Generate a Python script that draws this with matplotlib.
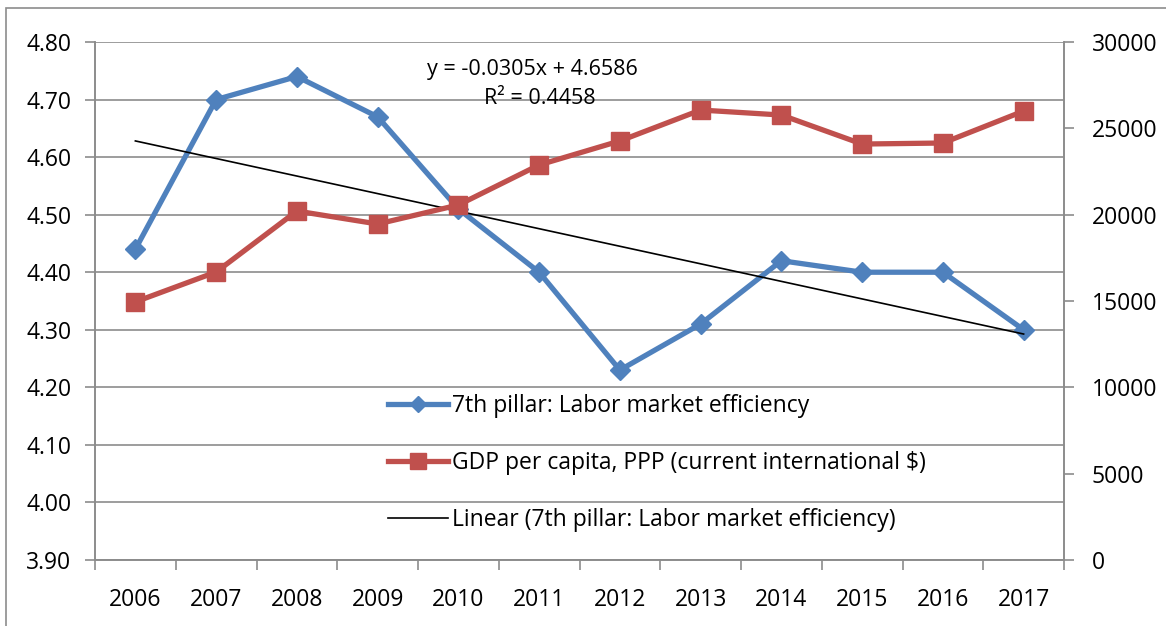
import numpy as np
import matplotlib.pyplot as plt
import matplotlib as mpl
from matplotlib.patches import Rectangle

mpl.rcParams["font.family"] = ["Open Sans", "DejaVu Sans"]

# data
years = ["2006", "2007", "2008", "2009", "2010", "2011",
         "2012", "2013", "2014", "2015", "2016", "2017"]
pillar7 = [4.44, 4.70, 4.74, 4.67, 4.51, 4.40, 4.23, 4.31, 4.42, 4.40, 4.40, 4.30]
gdp_ppp = [14950, 16680, 20210, 19460, 20560, 22880,
           24270, 26060, 25770, 24090, 24150, 26000]

# trendline as printed on the chart
TREND_SLOPE = -0.0305
TREND_ICPT = 4.6586
TREND_R2 = 0.4458

BLUE = "#4F81BD"
RED = "#C0504D"
GRID = "#8C8C8C"

fig = plt.figure(figsize=(11.66, 6.26), dpi=100)
# outer chart border (only left/top visible in the reference)
fig.patches.append(Rectangle((6 / 1166, -0.1), 1.2, 1 - 8 / 626 + 0.1,
                             transform=fig.transFigure, fill=False,
                             edgecolor=GRID, linewidth=1.2))

ax = fig.add_axes([95 / 1166, 66 / 626, (1064 - 95) / 1166, (560 - 42) / 626])
ax2 = ax.twinx()

x = np.arange(len(years))
ax.plot(x, pillar7, color=BLUE, linewidth=3.8, marker="D", markersize=10,
        label="7th pillar: Labor market efficiency", zorder=3)

# linear trendline (Excel style, x = 1..12)
ax.plot(x, TREND_SLOPE * (x + 1) + TREND_ICPT, color="black", linewidth=1.2,
        label="Linear (7th pillar: Labor market efficiency)", zorder=4)

ax2.plot(x, gdp_ppp, color=RED, linewidth=3.8, marker="s", markersize=13,
         label="GDP per capita, PPP (current international $)", zorder=3)

# axes / scales
ax.set_xlim(-0.5, len(years) - 0.5)
ax.set_ylim(3.9, 4.8)
yt = np.arange(3.9, 4.81, 0.1)
ax.set_yticks(yt)
ax.set_yticklabels([f"{v:.2f}" for v in yt])
ax2.set_ylim(0, 30000)
ax2.set_yticks(np.arange(0, 30001, 5000))

ax.set_xticks(x)
ax.set_xticklabels(years)
ax.set_xticks(np.arange(-0.5, len(years), 1), minor=True)
ax.tick_params(axis="x", which="major", length=0, pad=20, labelsize=16.5)
ax.tick_params(axis="x", which="minor", length=7, color=GRID, width=1.2)
ax.tick_params(axis="y", length=7, color=GRID, width=1.2, labelsize=16.5, pad=10)
ax2.tick_params(axis="y", length=7, color=GRID, width=1.2, labelsize=16.5, pad=13)

ax.yaxis.grid(True, color=GRID, linewidth=1.2)
ax.set_axisbelow(True)
for a in (ax, ax2):
    a.spines["top"].set_visible(False)
    for s in ("left", "right", "bottom"):
        a.spines[s].set_color(GRID)
        a.spines[s].set_linewidth(1.2)

# trendline equation
ax.text(0.451, 0.947, f"y = {TREND_SLOPE:.4f}x + {TREND_ICPT:.4f}",
        transform=ax.transAxes, ha="center", va="center", fontsize=15.5)
ax.text(0.459, 0.891, f"R² = {TREND_R2:.4f}", transform=ax.transAxes,
        ha="center", va="center", fontsize=15.5)

h1, l1 = ax.get_legend_handles_labels()
h2, l2 = ax2.get_legend_handles_labels()
handles = [h1[0], h2[0], h1[1]]
labels = [l1[0], l2[0], l1[1]]
ax2.legend(handles, labels, loc="upper left",
           bbox_to_anchor=(388 / 1166, 1 - 394 / 626),
           bbox_transform=fig.transFigure, frameon=False, fontsize=16.5,
           handlelength=2.6, handletextpad=0.2, labelspacing=1.45,
           borderpad=0, borderaxespad=0, markerscale=0.85)

fig.savefig("out.png", dpi=100)
